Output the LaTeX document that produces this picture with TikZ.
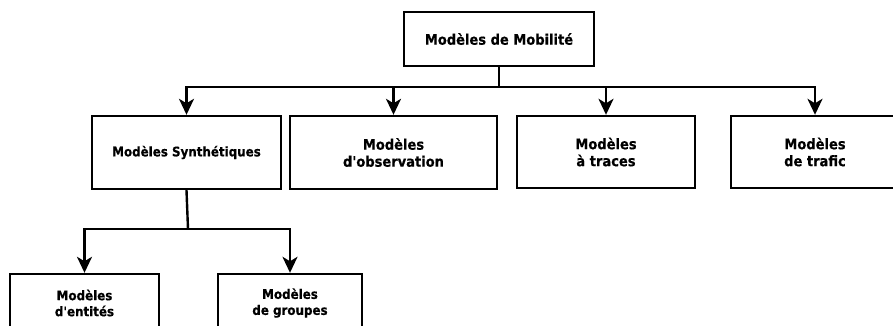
\documentclass[tikz,border=0pt]{standalone}
\usepackage{fontspec}
\setmainfont{DejaVu Sans Condensed}[BoldFeatures={FakeBold=0.5}]
\usetikzlibrary{arrows.meta}
\newcommand{\apos}{\textquotesingle}
\begin{document}
\begin{tikzpicture}[x=1pt,y=-1pt,
  box/.style={draw=black, line width=2.4pt, fill=white, inner sep=0pt,
    align=center, font=\bfseries\fontsize{14.5}{17}\selectfont},
  smallbox/.style={box, font=\bfseries\fontsize{13.2}{16}\selectfont},
  conn/.style={draw=black, line width=2.4pt},
  arr/.style={conn, -{Stealth[length=16pt,width=15pt,inset=4.5pt]}}]
\clip (0,0) rectangle (893,326);
\fill[white] (0,0) rectangle (893,326);

% root
\node[box, minimum width=190pt, minimum height=54pt] (root) at (499,39) {Modèles de Mobilité};

% first level
\node[smallbox, minimum width=189pt, minimum height=73pt] (syn) at (186.5,152.5) {Modèles Synthétiques};
\node[box, minimum width=207pt, minimum height=73pt] (obs) at (393.5,152.5) {Modèles\\d\apos observation};
\node[box, minimum width=178pt, minimum height=72pt] (trc) at (606,152) {Modèles\\à traces};
\node[box, minimum width=168pt, minimum height=72pt] (trf) at (815,152) {Modèles\\de trafic};

% second level
\node[smallbox, minimum width=149pt, minimum height=58pt] (ent) at (84.5,303) {Modèles\\d\apos entités};
\node[smallbox, minimum width=144pt, minimum height=58pt] (grp) at (290,303) {Modèles\\de groupes};

% connectors from the root
\coordinate (j) at (499,87);
\draw[conn] (root.south) -- (j);
\draw[arr] (j) -| (syn.north);
\draw[arr] (j) -| (trf.north);
\draw[arr] (obs.north |- j) -- (obs.north);
\draw[arr] (trc.north |- j) -- (trc.north);

% connectors below the synthetic models
\coordinate (k) at (188,229);
\draw[conn] (syn.south) -- (k);
\draw[arr] (k) -| (ent.north);
\draw[arr] (k) -| (grp.north);
\end{tikzpicture}
\end{document}
